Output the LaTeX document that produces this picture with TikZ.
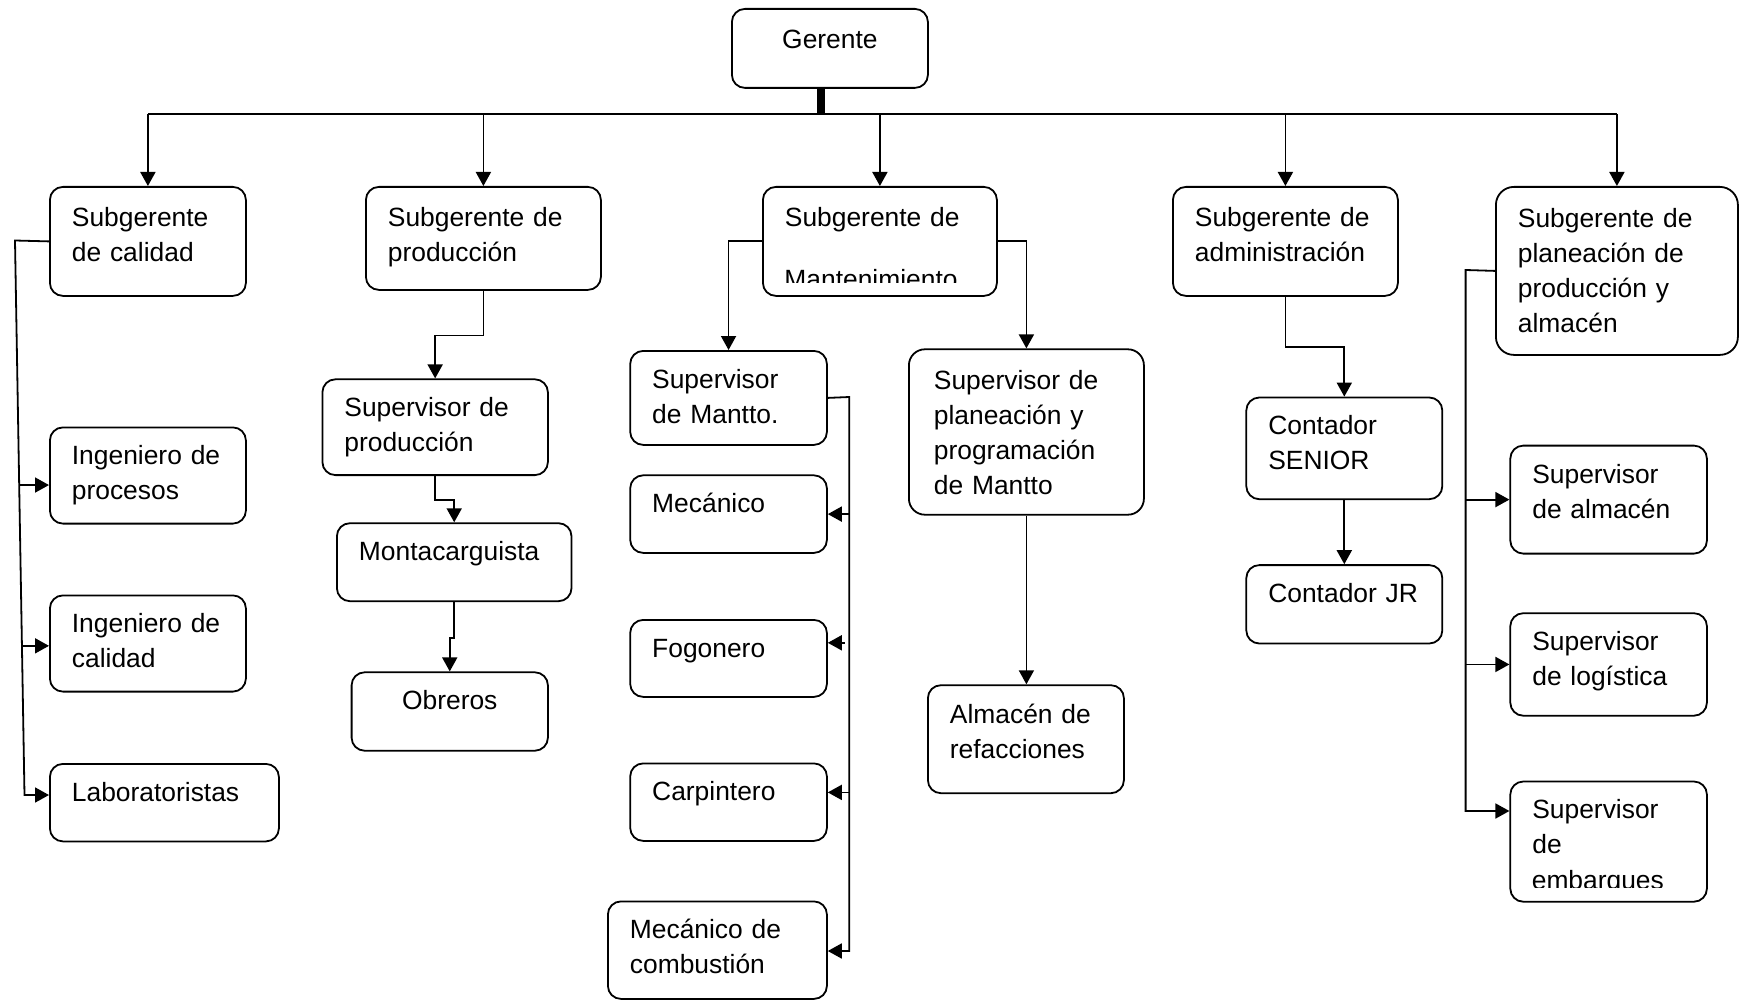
\documentclass[tikz,border=0pt]{standalone}
\usepackage{fontspec}
\setmainfont{Liberation Sans}
\usetikzlibrary{arrows.meta,calc}

\begin{document}
\begin{tikzpicture}[x=0.5pt,y=-0.5pt,>={Triangle[length=7pt,width=7.5pt]},
  caja/.style={draw,line width=0.9pt,rounded corners=6.5pt,anchor=north west,
    align=left,inner xsep=11pt,inner ysep=0pt,text height=18.7pt,
    font=\fontsize{13.2pt}{17.5pt}\selectfont},
  texto/.style={inner sep=0pt,font=\fontsize{13.2pt}{17.5pt}\selectfont},
  flecha/.style={->,line width=0.9pt}]
  \useasboundingbox (0,0) rectangle (1739,1000);
  % gerente and the bus
  \node[caja,align=center,text width=76pt,text height=19.7pt,text depth=19.8pt] (gerente) at (731,8) {Gerente};
  \coordinate (bus) at (821,114);
  % subgerentes
  \node[caja,text width=76pt,text height=19.7pt,text depth=34.8pt] (sgcal) at (49,186) {Subgerente\\de calidad};
  \node[caja,text width=95.5pt,text height=19.7pt,text depth=31.8pt] (sgprod) at (365,186) {Subgerente de\\producción};
  \node[caja,text width=95pt,text height=19.7pt,text depth=34.8pt] (sgman) at (762,186) {Subgerente de};
  \node[caja,text width=90.5pt,text height=19.7pt,text depth=34.8pt] (sgadm) at (1172,186) {Subgerente de\\administración};
  \node[caja,rounded corners=9pt,text width=99pt,text height=20.4pt,text depth=63.6pt] (sgplan) at (1495,186) {Subgerente de\\planeación de\\producción y\\almacén};
  \draw[line width=4pt] (gerente.south -| bus) -- (bus);
  \draw[line width=1.3pt] (sgcal.north |- bus) -- (sgplan.north |- bus);
  \draw[flecha] (sgcal.north |- bus) -- (sgcal.north);
  \draw[flecha] (sgprod.north |- bus) -- (sgprod.north);
  \draw[flecha] (sgman.north |- bus) -- (sgman.north);
  \draw[flecha] (sgadm.north |- bus) -- (sgadm.north);
  \draw[flecha] (sgplan.north |- bus) -- (sgplan.north);
  \begin{scope}
    \clip (sgman.north west) rectangle ([yshift=7pt]sgman.south east);
    \node[texto,anchor=base west] (sgmantxt) at (784,288) {Mantenimiento};
  \end{scope}
  % calidad
  \node[caja,text width=76pt,text depth=29.4pt] (ingproc) at (49,426.5) {Ingeniero de\\procesos};
  \node[caja,text width=76pt,text depth=29.4pt] (ingcal) at (49,594.5) {Ingeniero de\\calidad};
  \node[caja,text width=92.5pt,text depth=20.05pt] (labo) at (49,763) {Laboratoristas};
  \coordinate (calt) at (15,240.5);
  \coordinate (calb) at (24.5,795);
  \coordinate (cal1) at ($(calt)!0.441!(calb)$);
  \coordinate (cal2) at ($(calt)!0.731!(calb)$);
  \draw[flecha] (sgcal.west) -- (calt) -- (calb) -- (labo.west |- calb);
  \draw[flecha] (cal1) -- (ingproc.west |- cal1);
  \draw[flecha] (cal2) -- (ingcal.west |- cal2);
  % produccion
  \node[caja,text width=90.75pt,text depth=29.2pt] (supprod) at (321.5,378.4) {Supervisor de\\producción};
  \node[caja,text width=95.3pt,text depth=20.3pt] (monta) at (336,522.3) {Montacarguista};
  \node[caja,align=center,text width=76.15pt,text depth=20.5pt] (obreros) at (350.7,671.4) {Obreros};
  \draw[flecha] (sgprod.south) -- ++(0,44.6) -| (supprod.north);
  \draw[flecha] (supprod.south) -- ++(0,24.1) -| (monta.north);
  \draw[flecha] (monta.south) -- ++(0,35.6) -| (obreros.north);
  % mantenimiento
  \node[caja,text width=76.35pt,text depth=28.3pt] (supman) at (629.3,350) {Supervisor\\de Mantto.};
  \node[caja,text width=76.35pt,text depth=20.1pt] (mecanico) at (629.3,474.4) {Mecánico};
  \node[caja,text width=76.35pt,text depth=19.8pt] (fogonero) at (629.3,619) {Fogonero};
  \node[caja,text width=76.35pt,text depth=20.05pt] (carpintero) at (629.3,762.5) {Carpintero};
  \node[caja,text width=87.5pt,text depth=30.05pt] (meccomb) at (607,900.5) {Mecánico de\\combustión};
  \node[caja,rounded corners=8pt,inner xsep=12.5pt,text width=92.5pt,text height=20.2pt,text depth=62.5pt] (supplan) at (908,348.4) {Supervisor de\\planeación y\\programación\\de Mantto};
  \node[caja,text width=76pt,text height=19.2pt,text depth=34.8pt] (almref) at (927,684.3) {Almacén de\\refacciones};
  \draw[flecha] (sgman.west) -| (supman.north);
  \draw[flecha] (sgman.east) -| (supplan.north);
  \draw[flecha] (supplan.south) -- (supplan.south |- almref.north);
  \coordinate (mtop) at (849.3,397);
  \coordinate (mbot) at (849.3,951);
  \coordinate (fogp) at (844.6,642.8);
  \draw[flecha] (supman.east) -- (mtop) -- (mbot) -- (meccomb.east |- mbot);
  \draw[flecha] (mtop |- mecanico.east) -- (mecanico.east);
  \draw[flecha] (fogp) -- (fogonero.east |- fogp);
  \draw[flecha] (mtop |- 0,792.4) -- (carpintero.east |- 0,792.4);
  % administracion
  \node[caja,text width=76pt,text depth=32.15pt] (contsr) at (1245.4,396.6) {Contador\\SENIOR};
  \node[caja,text width=76pt,text depth=20.5pt] (contjr) at (1245.4,564.2) {Contador JR};
  \draw[flecha] (sgadm.south) -- ++(0,50.5) -| (contsr.north);
  \draw[flecha] (contsr.south) -- (contjr.north);
  % planeacion y almacen
  \node[caja,text width=76.3pt,text depth=35.3pt] (supalm) at (1509.4,444.7) {Supervisor\\de almacén};
  \node[caja,text width=76.3pt,text depth=32.55pt] (suplog) at (1509.4,612.3) {Supervisor\\de logística};
  \node[caja,text width=76.3pt,text depth=41.4pt] (supemb) at (1509.4,780.6) {Supervisor\\de};
  \begin{scope}
    \clip (supemb.north west) rectangle ([yshift=7.4pt]supemb.south east);
    \node[texto,anchor=base west] (supembtxt) at (1531.4,889.6) {embarques};
  \end{scope}
  \coordinate (ptop) at (1465.6,270);
  \coordinate (pbot) at (1465.6,811);
  \draw[flecha] (sgplan.west) -- (ptop) -- (pbot) -- (supemb.west |- pbot);
  \draw[flecha] (ptop |- supalm.west) -- (supalm.west);
  \draw[flecha] (ptop |- suplog.west) -- (suplog.west);
\end{tikzpicture}
\end{document}
